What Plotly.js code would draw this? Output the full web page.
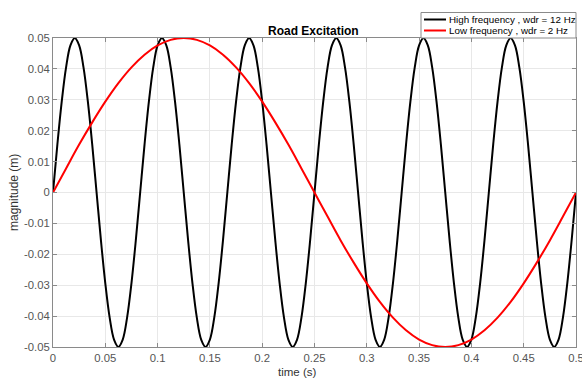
<!DOCTYPE html>
<html>
<head>
<meta charset="utf-8">
<script src="https://cdn.plot.ly/plotly-3.0.1.min.js"></script>
<style>html,body{margin:0;padding:0;background:#fff;}#chart{width:582px;height:382px;}</style>
</head>
<body>
<div id="chart"></div>
<script>
// Sampled excitation signals (time in s, magnitude in m)
const highStep = 0.5 / 120;   // sample interval of the 12 Hz trace
const lowStep = 0.5 / 40;     // sample interval of the 2 Hz trace

const highFreq = [
  0, 0.0155, 0.0294, 0.0405, 0.0476, 0.05, 0.0476, 0.0405, 0.0294, 0.0155,
  0, -0.0155, -0.0294, -0.0405, -0.0476, -0.05, -0.0476, -0.0405, -0.0294, -0.0155,
  0, 0.0155, 0.0294, 0.0405, 0.0476, 0.05, 0.0476, 0.0405, 0.0294, 0.0155,
  0, -0.0155, -0.0294, -0.0405, -0.0476, -0.05, -0.0476, -0.0405, -0.0294, -0.0155,
  0, 0.0155, 0.0294, 0.0405, 0.0476, 0.05, 0.0476, 0.0405, 0.0294, 0.0155,
  0, -0.0155, -0.0294, -0.0405, -0.0476, -0.05, -0.0476, -0.0405, -0.0294, -0.0155,
  0, 0.0155, 0.0294, 0.0405, 0.0476, 0.05, 0.0476, 0.0405, 0.0294, 0.0155,
  0, -0.0155, -0.0294, -0.0405, -0.0476, -0.05, -0.0476, -0.0405, -0.0294, -0.0155,
  0, 0.0155, 0.0294, 0.0405, 0.0476, 0.05, 0.0476, 0.0405, 0.0294, 0.0155,
  0, -0.0155, -0.0294, -0.0405, -0.0476, -0.05, -0.0476, -0.0405, -0.0294, -0.0155,
  0, 0.0155, 0.0294, 0.0405, 0.0476, 0.05, 0.0476, 0.0405, 0.0294, 0.0155,
  0, -0.0155, -0.0294, -0.0405, -0.0476, -0.05, -0.0476, -0.0405, -0.0294, -0.0155,
  0
];

const lowFreq = [
  0, 0.0078, 0.0155, 0.0227, 0.0294, 0.0354, 0.0405, 0.0446, 0.0476, 0.0494,
  0.05, 0.0494, 0.0476, 0.0446, 0.0405, 0.0354, 0.0294, 0.0227, 0.0155, 0.0078,
  0, -0.0078, -0.0155, -0.0227, -0.0294, -0.0354, -0.0405, -0.0446, -0.0476, -0.0494,
  -0.05, -0.0494, -0.0476, -0.0446, -0.0405, -0.0354, -0.0294, -0.0227, -0.0155, -0.0078,
  0
];

const seriesNames = ['High frequency , wdr = 12 Hz', 'Low frequency , wdr = 2 Hz'];
const xTickVals = [0, 0.05, 0.1, 0.15, 0.2, 0.25, 0.3, 0.35, 0.4, 0.45, 0.5];
const xTickText = ['0', '0.05', '0.1', '0.15', '0.2', '0.25', '0.3', '0.35', '0.4', '0.45', '0.5'];
const yTickVals = [-0.05, -0.04, -0.03, -0.02, -0.01, 0, 0.01, 0.02, 0.03, 0.04, 0.05];
const yTickText = ['-0.05', '-0.04', '-0.03', '-0.02', '-0.01', '0', '0.01', '0.02', '0.03', '0.04', '0.05'];

const FONT = 'Liberation Sans, Arial, Helvetica, sans-serif';
const W = 582, H = 382;
const M = {l: 53, r: 6, t: 38, b: 35};
const pw = W - M.l - M.r, ph = H - M.t - M.b;
const px = v => (v - M.l) / pw;
const py = v => (H - M.b - v) / ph;

const traces = [
  {x0: 0, dx: highStep, y: highFreq, type: 'scatter', mode: 'lines', name: seriesNames[0],
   line: {color: '#000000', width: 2, shape: 'spline', smoothing: 1}, showlegend: false},
  {x0: 0, dx: lowStep, y: lowFreq, type: 'scatter', mode: 'lines', name: seriesNames[1],
   line: {color: '#ff0000', width: 2, shape: 'spline', smoothing: 1}, showlegend: false}
];

const axisCommon = {
  showline: true, linecolor: '#8a8a8a', linewidth: 1, mirror: 'ticks',
  ticks: 'inside', ticklen: 4, tickcolor: '#8a8a8a', tickwidth: 1,
  showgrid: true, gridcolor: '#e8e8e8', gridwidth: 1, zeroline: false,
  ticklabeloverflow: 'allow',
  tickfont: {family: FONT, size: 11.3, color: '#555555'}, fixedrange: true
};

const layout = {
  width: W, height: H,
  margin: M,
  paper_bgcolor: '#ffffff', plot_bgcolor: '#ffffff',
  showlegend: false,
  xaxis: Object.assign({}, axisCommon, {range: [0, 0.5], tickmode: 'array', tickvals: xTickVals, ticktext: xTickText}),
  yaxis: Object.assign({}, axisCommon, {range: [-0.05, 0.05], tickmode: 'array', tickvals: yTickVals, ticktext: yTickText}),
  shapes: [
    {type: 'rect', xref: 'paper', yref: 'paper', x0: px(421), x1: px(576), y0: py(38), y1: py(12.5),
     line: {color: '#8a8a8a', width: 1}, fillcolor: '#ffffff', layer: 'above'},
    {type: 'line', xref: 'paper', yref: 'paper', x0: px(424), x1: px(446), y0: py(19.5), y1: py(19.5),
     line: {color: '#000000', width: 2}, layer: 'above'},
    {type: 'line', xref: 'paper', yref: 'paper', x0: px(424), x1: px(446), y0: py(30.5), y1: py(30.5),
     line: {color: '#ff0000', width: 2}, layer: 'above'}
  ],
  annotations: [
    {text: '<b>Road Excitation</b>', xref: 'paper', yref: 'paper', x: px(313.5), y: py(31), xanchor: 'center', yanchor: 'middle',
     showarrow: false, font: {family: FONT, size: 12, color: '#000000'}},
    {text: seriesNames[0], xref: 'paper', yref: 'paper', x: px(447), y: py(19.5), xanchor: 'left', yanchor: 'middle',
     showarrow: false, font: {family: FONT, size: 9.8, color: '#000000'}},
    {text: seriesNames[1], xref: 'paper', yref: 'paper', x: px(447), y: py(30.5), xanchor: 'left', yanchor: 'middle',
     showarrow: false, font: {family: FONT, size: 9.8, color: '#000000'}},
    {text: 'time (s)', xref: 'paper', yref: 'paper', x: px(297.5), y: py(372), xanchor: 'center', yanchor: 'middle',
     showarrow: false, font: {family: FONT, size: 11.5, color: '#333333'}},
    {text: 'magnitude (m)', xref: 'paper', yref: 'paper', x: px(14), y: py(193), xanchor: 'center', yanchor: 'middle',
     textangle: -90, showarrow: false, font: {family: FONT, size: 12, color: '#333333'}}
  ]
};

Plotly.newPlot('chart', traces, layout, {staticPlot: true, displayModeBar: false});
</script>
</body>
</html>
